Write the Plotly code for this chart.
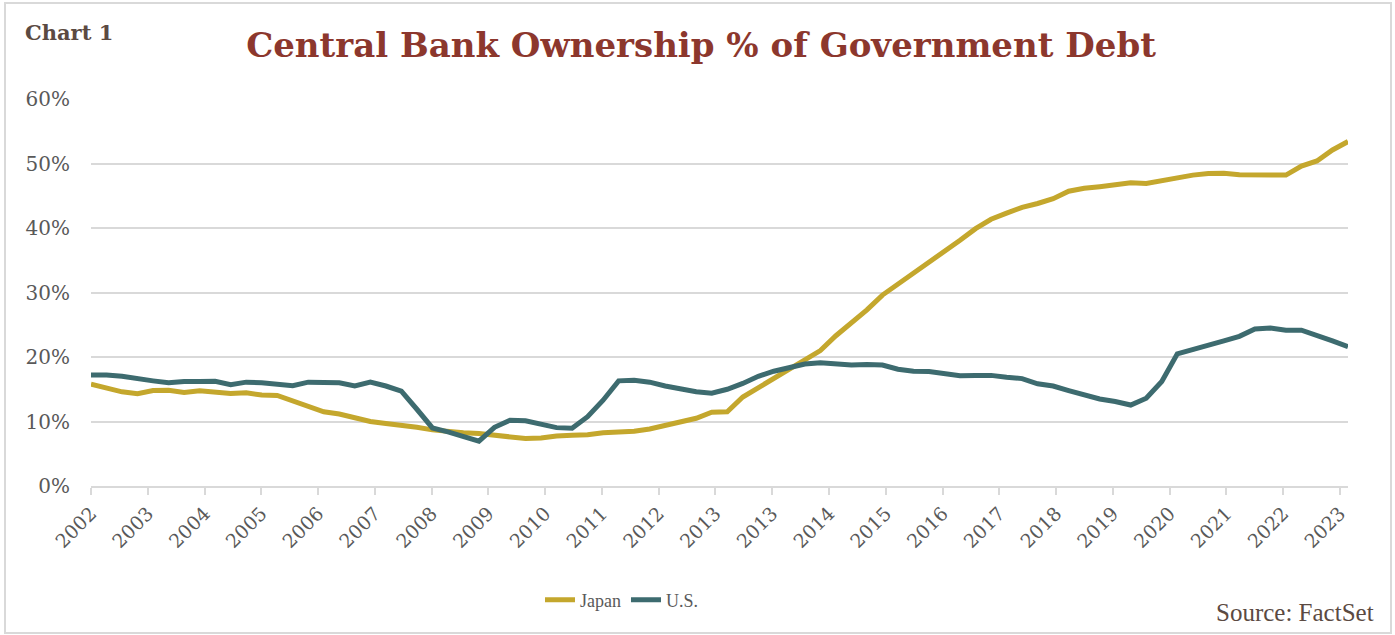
import plotly.graph_objects as go

# ---- data (quarterly observations, % of government debt held by central bank) ----
japan = [15.8, 15.15, 14.6, 14.3, 14.8, 14.85, 14.5, 14.75, 14.6, 14.35,
         14.45, 14.1, 14.05, 13.15, 12.2, 11.5, 11.15, 10.5, 10.0, 9.7,
         9.45, 9.1, 8.7, 8.45, 8.25, 8.15, 7.85, 7.5, 7.35, 7.45,
         7.75, 7.85, 7.95, 8.25, 8.4, 8.5, 8.85, 9.4, 10.1, 10.5,
         11.45, 11.5, 13.8, 15.2, 16.7, 18.1, 19.4, 21.0, 23.3, 25.3,
         27.3, 29.6, 31.3, 33.0, 34.6, 36.2, 38.1, 39.9, 41.35, 42.3,
         43.2, 43.8, 44.55, 45.7, 46.15, 46.4, 46.65, 47.0, 46.9, 47.3,
         47.85, 48.2, 48.45, 48.5, 48.25, 48.2, 48.1, 48.2, 49.6, 50.4,
         52.1, 53.4]
us = [17.2, 17.2, 17.0, 16.6, 16.3, 16.0, 16.2, 16.2, 16.25, 15.7,
      16.1, 16.0, 15.8, 15.55, 16.1, 16.0, 16.0, 15.5, 16.1, 15.5,
      14.7, 11.9, 9.0, 8.4, 7.6, 6.95, 9.1, 10.2, 10.1, 9.5,
      9.05, 8.95, 10.75, 13.3, 16.3, 16.4, 16.1, 15.5, 15.1, 14.6,
      14.4, 15.0, 15.9, 17.0, 17.8, 18.3, 18.9, 19.1, 18.9, 18.75,
      18.85, 18.75, 18.1, 17.8, 17.75, 17.5, 17.1, 17.15, 17.15, 16.85,
      16.65, 15.85, 15.5, 14.8, 14.05, 13.5, 13.1, 12.55, 13.6, 16.2,
      20.5, 21.1, 21.75, 22.5, 23.2, 24.35, 24.5, 24.15, 24.15, 23.4,
      22.5, 21.6]
x_tick_labels = ["2002", "2003", "2004", "2005", "2006", "2007", "2008", "2009",
                 "2010", "2011", "2012", "2013", "2013", "2014", "2015", "2016",
                 "2017", "2018", "2019", "2020", "2021", "2022", "2023"]
y_tick_vals = [0, 10, 20, 30, 40, 50, 60]
y_tick_labels = ["0%", "10%", "20%", "30%", "40%", "50%", "60%"]

periods = list(range(len(japan)))

# ---- layout geometry ----
W, H = 1395, 635
L, R, T, B = 91, 47, 99, 149
pw = W - L - R
ph = H - T - B
tick_step = (len(japan) - 1) * 56.7 / 1255.5
x_tick_vals = [k * tick_step for k in range(len(x_tick_labels))]

def px(xp):
    return (xp - L) / pw

def py(yp):
    return (H - B - yp) / ph

GOLD = "#C4A72D"
TEAL = "#3D6B6F"
GRID = "#D9D9D9"
TXT = "#595959"
SERIF = "DejaVu Serif, serif"
NARROW = "Liberation Serif, serif"

fig = go.Figure()
fig.add_trace(go.Scatter(x=periods, y=japan, mode="lines", name="Japan",
                         line=dict(color=GOLD, width=5)))
fig.add_trace(go.Scatter(x=periods, y=us, mode="lines", name="U.S.",
                         line=dict(color=TEAL, width=5)))

fig.update_layout(
    width=W, height=H,
    margin=dict(l=L, r=R, t=T, b=B, pad=0),
    paper_bgcolor="white", plot_bgcolor="white",
    title=dict(text="<b>Central Bank Ownership % of Government Debt</b>",
               font=dict(family=SERIF, size=34, color="#8C372D"),
               xref="container", yref="container",
               x=701 / W, y=1 - 45 / H, xanchor="center", yanchor="middle"),
    showlegend=True,
    legend=dict(orientation="h", x=px(540), y=py(600), xanchor="left", yanchor="middle",
                font=dict(family=NARROW, size=18, color=TXT),
                bgcolor="rgba(0,0,0,0)", itemwidth=30),
    xaxis=dict(range=[0, len(japan) - 1], tickmode="array",
               tickvals=x_tick_vals, ticktext=x_tick_labels, tickangle=-45,
               ticks="outside", ticklen=7, tickwidth=1.5, tickcolor=GRID,
               showline=True, linecolor=GRID, linewidth=2,
               showgrid=False, zeroline=False,
               tickfont=dict(family=SERIF, size=19, color=TXT)),
    yaxis=dict(range=[0, 60], tickmode="array", tickvals=y_tick_vals,
               ticktext=y_tick_labels, showgrid=True, gridcolor=GRID, gridwidth=2,
               zeroline=False, showline=False, ticks="",
               ticklabelstandoff=20,
               tickfont=dict(family=SERIF, size=20, color=TXT)),
    annotations=[
        dict(text="<b>Chart 1</b>", xref="paper", yref="paper", x=px(23), y=py(33),
             xanchor="left", yanchor="middle", showarrow=False,
             font=dict(family=SERIF, size=21, color="#5B4A42")),
        dict(text="Source: FactSet", xref="paper", yref="paper", x=px(1376), y=py(612),
             xanchor="right", yanchor="middle", showarrow=False,
             font=dict(family=NARROW, size=25, color="#5B4A42")),
    ],
    shapes=[
        dict(type="rect", xref="paper", yref="paper",
             x0=px(5), x1=px(1391), y0=py(633), y1=py(3),
             line=dict(color=GRID, width=2), fillcolor="rgba(0,0,0,0)", layer="below"),
    ],
)

fig.write_html("out.html")
